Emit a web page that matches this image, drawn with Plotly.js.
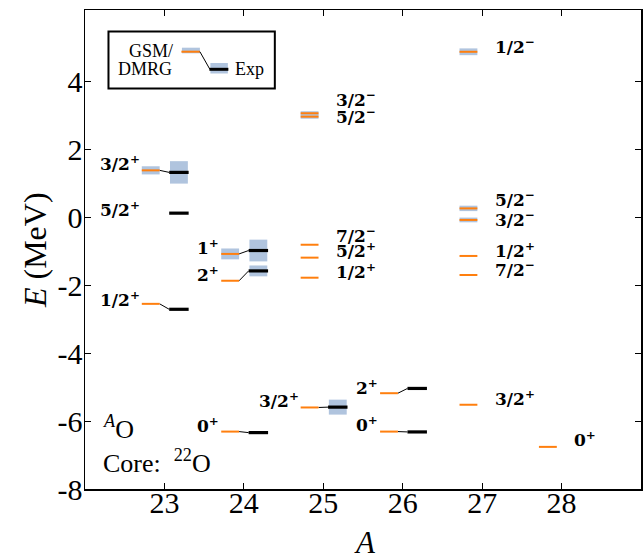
<!DOCTYPE html>
<html>
<head>
<meta charset="utf-8">
<script src="https://cdn.plot.ly/plotly-3.0.1.min.js"></script>
<style>html,body{margin:0;padding:0;background:#fff;}#chart{width:644px;height:559px;}</style>
</head>
<body>
<div id="chart"></div>
<script>
// ---- data ----
const nucleusA = [23,23,23, 24,24,24, 25,25,25,25,25,25, 26,26, 27,27,27,27,27,27, 28];
const stateJ   = ['3/2+','5/2+','1/2+', '1+','2+','0+', '3/2-','5/2-','7/2-','5/2+','1/2+','3/2+', '2+','0+', '1/2-','5/2-','3/2-','1/2+','7/2-','3/2+', '0+'];
const gsmE     = [1.38,null,-2.55, -1.08,-1.87,-6.31, 3.06,2.96,-0.81,-1.19,-1.78,-5.60, -5.18,-6.31, 4.87,0.26,-0.08,-1.14,-1.70,-5.52, -6.76];
const gsmErr   = [0.12,0,0, 0.16,0,0, 0.06,0.06,0,0,0,0, 0,0, 0.10,0.08,0.07,0,0,0, 0];
const expE     = [1.32,0.12,-2.71, -0.98,-1.58,-6.34, null,null,null,null,null,-5.59, -5.04,-6.32, null,null,null,null,null,null, null];
const expErr   = [0.33,0,0, 0.32,0.16,0, 0,0,0,0,0,0.22, 0,0, 0,0,0,0,0,0, 0];
const xTickVals = [23,24,25,26,27,28];
const xTickText = ['23','24','25','26','27','28'];
const yTickVals = [-8,-6,-4,-2,0,2,4];
const yTickText = ['-8','-6','-4','-2','0','2','4'];

// ---- label styling (side of level, vertical nudge in px) ----
const labelSide  = ['L','L','L','L','L','L','R','R','R','R','R','L','L','L','R','R','R','R','R','R','R'];
const labelNudge = [4,1,1.5, 4,4,4, 11,-2,7,5,4, 4, 3.5,5, 3,6,-2,2.5,2.5,3.5, 5];

// ---- geometry helpers ----
const W=644,H=559, L=85, R=641.5, T=10, B=489;
const px2x = p => (p-L)/(R-L);
const px2y = p => (B-p)/(B-T);
const TH0=-0.285, TH1=-0.06, EX0=0.06, EX1=0.305;
const ORANGE='#ff7f0e', BLUE='#b0c4de';

const shapes=[], annotations=[];
const thX=[],thY=[],exX=[],exY=[],cnX=[],cnY=[];
nucleusA.forEach((a,i)=>{
  const g=gsmE[i], e=expE[i];
  if(g!==null){
    if(gsmErr[i]>0) shapes.push({type:'rect',xref:'x',yref:'y',x0:a+TH0,x1:a+TH1,y0:g-gsmErr[i],y1:g+gsmErr[i],fillcolor:BLUE,line:{width:0},layer:'below'});
    thX.push(a+TH0,a+TH1,null); thY.push(g,g,null);
  }
  if(e!==null){
    if(expErr[i]>0) shapes.push({type:'rect',xref:'x',yref:'y',x0:a+EX0+0.01,x1:a+EX1-0.01,y0:e-expErr[i],y1:e+expErr[i],fillcolor:BLUE,line:{width:0},layer:'below'});
    exX.push(a+EX0,a+EX1,null); exY.push(e,e,null);
  }
  if(g!==null && e!==null){ cnX.push(a+TH1,a+EX0,null); cnY.push(g,e,null); }
  const lvl = g!==null ? g : e;
  const j = stateJ[i];
  const txt = j.slice(0,-1)+'<sup>'+(j.slice(-1)==='-'?'−':'+')+'</sup>';
  annotations.push({
    x: labelSide[i]==='L' ? a+TH0 : a+0.135, y: lvl, xref:'x', yref:'y',
    xanchor: labelSide[i]==='L' ? 'right':'left', yanchor:'middle',
    yshift: labelNudge[i]+3, text:'<b>'+txt+'</b>', showarrow:false,
    font:{family:'DejaVu Serif', size:17, color:'#000'}
  });
});

// legend box drawn by hand
const P = (x0,y0,x1,y1)=>({x0:px2x(x0),x1:px2x(x1),y0:px2y(y0),y1:px2y(y1)});
shapes.push(Object.assign({type:'rect',xref:'paper',yref:'paper',line:{color:'#000',width:2},fillcolor:'rgba(255,255,255,0)'},P(108.5,31.5,275,88.5)));
shapes.push(Object.assign({type:'rect',xref:'paper',yref:'paper',line:{width:0},fillcolor:BLUE},P(182,47.7,200,53.3)));
shapes.push(Object.assign({type:'line',xref:'paper',yref:'paper',line:{color:ORANGE,width:2}},P(181.5,51.7,200,51.7)));
shapes.push(Object.assign({type:'line',xref:'paper',yref:'paper',line:{color:'#000',width:1}},P(200,51.7,210,69.3)));
shapes.push(Object.assign({type:'rect',xref:'paper',yref:'paper',line:{width:0},fillcolor:BLUE},P(210.5,63,228,73.5)));
shapes.push(Object.assign({type:'line',xref:'paper',yref:'paper',line:{color:'#000',width:3}},P(209.5,69.3,228.5,69.3)));

const serif='Liberation Serif';
const addText=(t,xp,yp,size,xa,extra)=>annotations.push(Object.assign({text:t,x:px2x(xp),y:px2y(yp),xref:'paper',yref:'paper',xanchor:xa||'center',yanchor:'middle',showarrow:false,font:{family:serif,size:size,color:'#000'}},extra||{}));
addText('GSM/',151.5,51.5,18);
addText('DMRG',145,68.5,18);
addText('Exp',233,69,18,'left');
addText('<sup><i>A</i></sup>O',101,427,26,'left');
addText('Core:&nbsp;&nbsp;<sup>22</sup>O',101,461,26,'left');
addText('<i>A</i>',365,542,31);
addText('<i>E</i> (MeV)',35,250,32,'center',{textangle:-90});

const traces=[
  {x:cnX,y:cnY,mode:'lines',line:{color:'#000',width:1},hoverinfo:'skip',showlegend:false},
  {x:thX,y:thY,mode:'lines',line:{color:ORANGE,width:2},hoverinfo:'skip',showlegend:false},
  {x:exX,y:exY,mode:'lines',line:{color:'#000',width:3.2},hoverinfo:'skip',showlegend:false}
];
const axisCommon={showline:true,mirror:'ticks',linecolor:'#000',linewidth:1.5,ticks:'inside',ticklen:6,tickwidth:1,tickcolor:'#000',showgrid:false,zeroline:false,
  tickfont:{family:serif,size:30,color:'#000'}};
const layout={
  width:W,height:H,margin:{l:L,r:W-R,t:T,b:H-B},paper_bgcolor:'#fff',plot_bgcolor:'#fff',showlegend:false,
  xaxis:Object.assign({},axisCommon,{range:[22,29],tickvals:xTickVals,ticktext:xTickText,ticklabelstandoff:-14}),
  yaxis:Object.assign({},axisCommon,{range:[-8,6.1],tickvals:yTickVals,ticktext:yTickText,ticklabelstandoff:-5}),
  shapes:shapes,annotations:annotations
};
Plotly.newPlot('chart',traces,layout,{staticPlot:true,displayModeBar:false});
</script>
</body>
</html>
